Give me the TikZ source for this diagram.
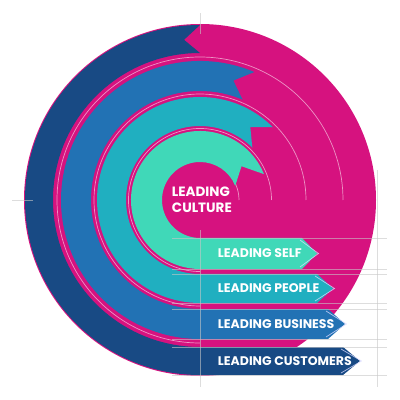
\documentclass[tikz,border=0pt]{standalone}
\usepackage{fontspec}
\setmainfont{Poppins}
\definecolor{culture}{HTML}{D6127F}
\definecolor{self}{HTML}{40D8B8}
\definecolor{people}{HTML}{20AFC0}
\definecolor{business}{HTML}{2272B4}
\definecolor{customers}{HTML}{184A84}
\tikzset{
  guide/.style={white!78!black, opacity=0.6, line width=0.4pt},
  gapline/.style={white!55!culture, line width=0.5pt},
  headline/.style={white!85!blue, opacity=0.8, line width=0.5pt},
  tag/.style={anchor=west, text=white, font=\bfseries\fontsize{8.9}{10}\selectfont}
}
\begin{document}
\begin{tikzpicture}[x=0.025cm,y=0.025cm]
    \useasboundingbox (-200,-200) rectangle (200,200);
    \fill[culture] (0,0) circle (176);
    % thin lines in the magenta gaps
    \foreach \r in {39,71.5,106,143}
        \draw[gapline] (\r,0) arc (0:270:\r);
    % bands: colour / inner / outer / tail angle / head base / head tip
    \foreach \c/\ri/\ro/\a/\xb/\xt in {self/38/69/22/102/117, people/74/103/45/117/133, business/109/139/67/128/145, customers/147/175/90/143/160} {
        \pgfmathsetmacro\rmid{(\ri+\ro)/2}
        \pgfmathsetmacro\notch{\a+16/\rmid*180/pi}
        \fill[\c] (\a:\ro) arc (\a:270:\ro) -- (\xb,-\ro) -- (\xt,-\rmid) -- (\xb,-\ri) -- (0,-\ri) arc (270:\a:\ri) -- (\notch:\rmid) -- cycle;
        \draw[headline] (\xb-2,-\ro+2) -- (\xt+1.5,-\rmid) -- (\xb-2,-\ri-2);
    }
    % guide lines
    \draw[guide] (0,-30) -- (0,-187);
    \draw[guide] (177,30) -- (177,-187);
    \draw[guide] (0,187) -- (0,166);
    \draw[guide] (-188,0) -- (-167,0);
    \foreach \y in {38,69,74,103,109,139,147,175}
        \draw[guide] (-28,-\y) -- (187,-\y);
    % labels
    \node[tag, font=\bfseries\fontsize{9.6}{11.5}\selectfont, align=left] (culture) at (-33,0) {LEADING\\CULTURE};
    \node[tag] (self) at (13,-53.5) {LEADING SELF};
    \node[tag] (people) at (13,-88.5) {LEADING PEOPLE};
    \node[tag] (business) at (13,-124) {LEADING BUSINESS};
    \node[tag] (customers) at (13,-161) {LEADING CUSTOMERS};
\end{tikzpicture}
\end{document}
